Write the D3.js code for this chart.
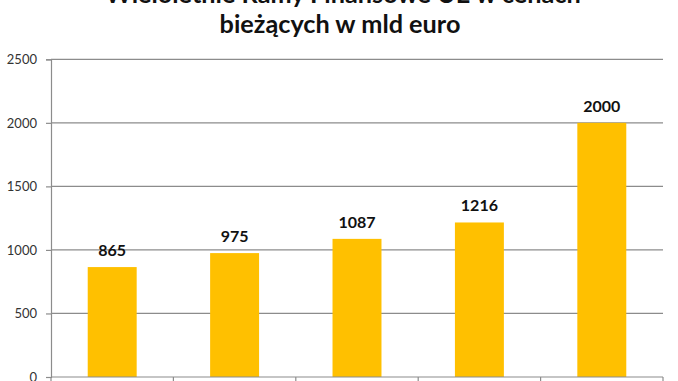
<!DOCTYPE html>
<html>
<head>
<meta charset="utf-8">
<script src="https://cdn.jsdelivr.net/npm/d3@7"></script>
<style>
  html, body { margin: 0; padding: 0; background: #fff; }
  svg { display: block; }
</style>
</head>
<body>
<svg id="chart" width="678" height="381"></svg>
<script>
const titleLines = ["Wieloletnie Ramy Finansowe UE w cenach", "bieżących w mld euro"];
const categories = ["1988-1992", "1993-1999", "2000-2006", "2007-2013", "2014-2020"];
const values = [865, 975, 1087, 1216, 2000];
const yTicks = [0, 500, 1000, 1500, 2000, 2500];

const svg = d3.select("#chart");
const m = { left: 51, top: 59.3 };
const plotRight = 663;
const plotBottom = 377;

const x = d3.scaleBand().domain(categories).range([m.left, plotRight])
  .paddingInner(0.6).paddingOuter(0.3);
const y = d3.scaleLinear().domain([0, 2500]).range([plotBottom, m.top]);

// gridlines
svg.append("g").selectAll("line").data(yTicks.filter(d => d > 0)).join("line")
  .attr("x1", m.left).attr("x2", plotRight)
  .attr("y1", d => y(d)).attr("y2", d => y(d))
  .attr("stroke", "#8c8c8c").attr("stroke-width", 1.2);

// bars
svg.append("g").selectAll("rect").data(values).join("rect")
  .attr("x", (d, i) => x(categories[i]))
  .attr("width", x.bandwidth())
  .attr("y", d => y(d))
  .attr("height", d => y(0) - y(d))
  .attr("fill", "#FFC000");

// y axis
const yAxis = d3.axisLeft(y).tickValues(yTicks).tickFormat(d3.format("d")).tickSize(5).tickPadding(9);
const gy = svg.append("g").attr("transform", `translate(${m.left},0)`).call(yAxis);
gy.select(".domain").attr("stroke", "#8c8c8c").attr("stroke-width", 1.2);
gy.selectAll(".tick line").attr("stroke", "#8c8c8c").attr("stroke-width", 1.2);
gy.selectAll(".tick text").attr("font-family", "Lato, 'Open Sans', sans-serif")
  .attr("font-size", 13).attr("fill", "#333");

// x axis with boundary ticks
const gx = svg.append("g");
gx.append("line").attr("x1", m.left).attr("x2", plotRight)
  .attr("y1", plotBottom).attr("y2", plotBottom)
  .attr("stroke", "#8c8c8c").attr("stroke-width", 1.2);
const bounds = categories.map(c => x(c) - x.step() * x.paddingOuter()).concat([plotRight]);
gx.selectAll("line.b").data(bounds).join("line").attr("class", "b")
  .attr("x1", d => d).attr("x2", d => d)
  .attr("y1", plotBottom).attr("y2", plotBottom + 6)
  .attr("stroke", "#8c8c8c").attr("stroke-width", 1.2);

// data labels
svg.append("g").selectAll("text").data(values).join("text")
  .attr("x", (d, i) => x(categories[i]) + x.bandwidth() / 2)
  .attr("y", d => y(d) - 11)
  .attr("text-anchor", "middle")
  .attr("font-family", "Lato, 'Open Sans', sans-serif")
  .attr("font-weight", "bold")
  .attr("font-size", 16)
  .attr("fill", "#111")
  .text(d => d);

// title
const title = svg.append("g");
const t2 = title.append("text").attr("x", 340).attr("y", 33)
  .attr("text-anchor", "middle")
  .attr("font-family", "Lato, 'Open Sans', sans-serif")
  .attr("font-weight", "bold").attr("font-size", 24).attr("fill", "#111")
  .text(titleLines[1]);
const len = t2.node().getComputedTextLength();
const fs = 24 * 241 / len;
t2.attr("font-size", fs);
title.append("text").attr("x", 343).attr("y", 3)
  .attr("text-anchor", "middle")
  .attr("font-family", "Lato, 'Open Sans', sans-serif")
  .attr("font-weight", "bold").attr("font-size", fs).attr("fill", "#111")
  .text(titleLines[0]);
</script>
</body>
</html>
